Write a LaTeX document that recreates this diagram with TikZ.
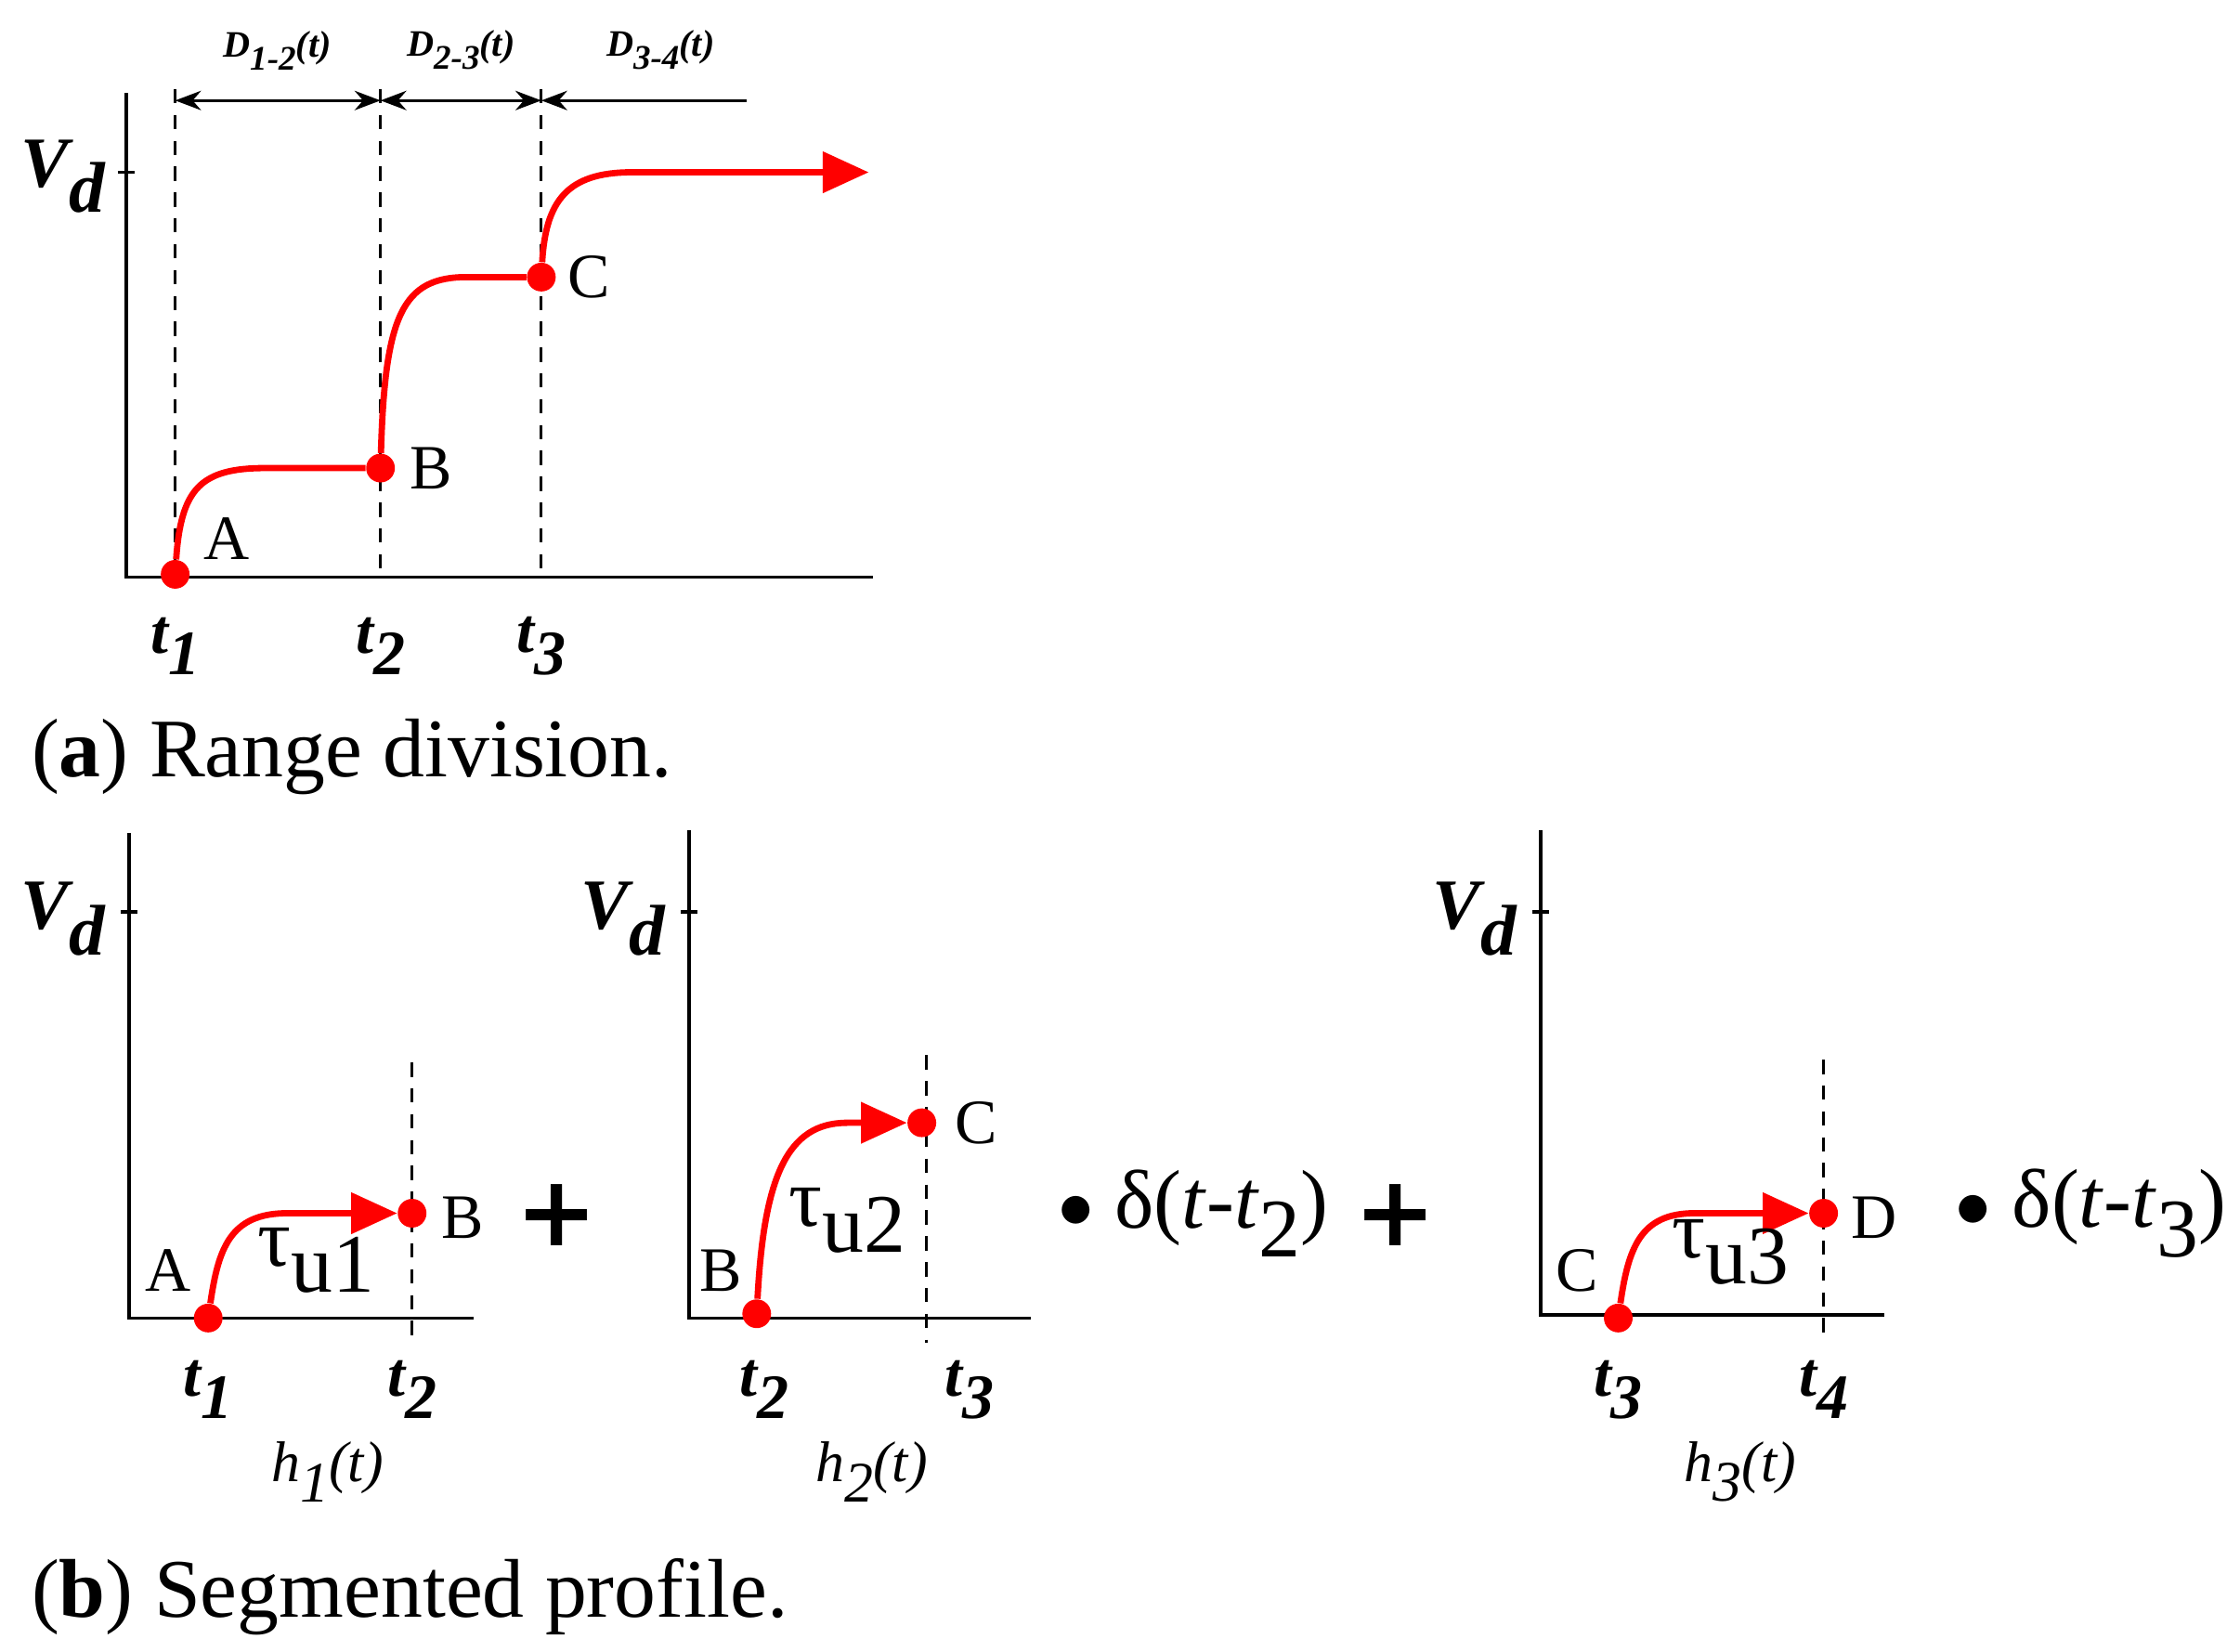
\documentclass[tikz,border=0pt]{standalone}
\usepackage{fontspec}
\setmainfont{Liberation Serif}
\newfontfamily\dv{DejaVu Sans}
\usetikzlibrary{arrows.meta}
\newcommand{\lsub}[1]{\raisebox{-0.35em}{#1}}
\begin{document}
\begin{tikzpicture}[x=0.5pt,y=-0.5pt,
  ax/.style={line width=1.2pt},
  dsh/.style={line width=1pt,dash pattern=on 5pt off 4pt},
  crv/.style={red,line width=2.2pt},
  dot/.style={circle,fill=red,inner sep=0pt,minimum size=10pt},
  tl/.style={font=\fontsize{22}{24}\selectfont\bfseries\itshape},
  vd/.style={font=\fontsize{25}{28}\selectfont\bfseries\itshape},
  pl/.style={font=\fontsize{22}{24}\selectfont},
  dl/.style={font=\fontsize{13}{14}\selectfont\bfseries\itshape},
  captxt/.style={font=\fontsize{29}{32}\selectfont,anchor=west},
  big/.style={font=\fontsize{29}{32}\selectfont},
  plus/.style={font=\fontsize{34}{40}\selectfont\dv\bfseries},
  hl/.style={font=\fontsize{20}{22}\selectfont\itshape},
  arr/.style={-{Triangle[length=16pt,width=14pt]}}]
\useasboundingbox (0,0) rectangle (1560,1150);
% ---------- (a)
\draw[ax] (88,65) -- (88,402) -- (608,402);
\draw[ax] (82,120) -- (94,120);
\node[vd] (vda) at (44,123) {V\lsub{d}};
\foreach \x in {122,265,377}{\draw[dsh] (\x,62) -- (\x,402);}
\coordinate (p1) at (122,70); \coordinate (p2) at (265,70);
\coordinate (p3) at (377,70); \coordinate (p4) at (520,70);
\draw[line width=1pt,{Stealth[length=9pt]}-{Stealth[length=9pt]}] (p1) -- (p2);
\draw[line width=1pt,{Stealth[length=9pt]}-{Stealth[length=9pt]}] (p2) -- (p3);
\draw[line width=1pt,{Stealth[length=9pt]}-] (p3) -- (p4);
\node[dl] (da) at (193,35) {D\lsub{\large 1-2}(t)};
\node[dl] (db) at (321,35) {D\lsub{\large 2-3}(t)};
\node[dl] (dc) at (460,35) {D\lsub{\large 3-4}(t)};
\node[dot] (A) at (122,400) {};
\node[dot] (B) at (265,326) {};
\node[dot] (C) at (377,193) {};
\coordinate (E) at (605,120);
\draw[crv] (A) .. controls (126,340) and (140,326) .. (185,326) -- (B);
\draw[crv] (B) .. controls (268,220) and (280,193) .. (325,193) -- (C);
\draw[crv] (C) .. controls (380,140) and (395,120) .. (440,120) -- (560,120);
\draw[red,line width=2.2pt,arr] (555,120) -- (E);
\node[pl] (la) at (158,375) {A};
\node[pl] (lb) at (300,326) {B};
\node[pl] (lc) at (410,193) {C};
\node[tl] at (122,450) {t\lsub{1}};
\node[tl] at (265,450) {t\lsub{2}};
\node[tl] at (377,450) {t\lsub{3}};
\node[captxt] at (15,527) {(\textbf{a}) Range division.};
% ---------- (b) panel 1
\draw[ax] (90,580) -- (90,918) -- (330,918);
\draw[ax] (84,635) -- (96,635);
\node[vd] at (44,640) {V\lsub{d}};
\draw[dsh] (287,740) -- (287,935);
\node[dot] (A1) at (145,918) {};
\node[dot] (B1) at (287,845) {};
\draw[crv] (A1) .. controls (152,870) and (160,845) .. (200,845) -- (260,845);
\draw[red,line width=2.2pt,arr] (255,845) -- (B1);
\node[pl] at (117,885) {A};
\node[pl] at (322,848) {B};
\node[big] at (220,878) {τ\raisebox{-9pt}{u1}};
\node[tl] at (145,968) {t\lsub{1}};
\node[tl] at (287,968) {t\lsub{2}};
\node[hl] at (228,1025) {h\lsub{1}(t)};
\node[plus] at (388,846) {+};
% panel 2
\draw[ax] (480,578) -- (480,918) -- (718,918);
\draw[ax] (474,635) -- (486,635);
\node[vd] at (434,640) {V\lsub{d}};
\draw[dsh] (645,735) -- (645,935);
\node[dot] (B2) at (527,915) {};
\node[dot] (C2) at (642,782) {};
\draw[crv] (B2) .. controls (532,820) and (548,782) .. (590,782) -- (615,782);
\draw[red,line width=2.2pt,arr] (610,782) -- (C2);
\node[pl] at (502,885) {B};
\node[pl] at (680,782) {C};
\node[big] at (590,850) {τ\raisebox{-9pt}{u2}};
\node[tl] at (532,968) {t\lsub{2}};
\node[tl] at (675,968) {t\lsub{3}};
\node[hl] at (607,1025) {h\lsub{2}(t)};
\node[big,anchor=west] at (730,845) {$\bullet$ δ(\textit{t}-\textit{t}\lsub{2})};
\node[plus] at (972,846) {+};
% panel 3
\draw[ax] (1073,578) -- (1073,916) -- (1312,916);
\draw[ax] (1067,635) -- (1079,635);
\node[vd] at (1027,640) {V\lsub{d}};
\draw[dsh] (1270,738) -- (1270,935);
\node[dot] (C3) at (1127,918) {};
\node[dot] (D3) at (1270,845) {};
\draw[crv] (C3) .. controls (1134,870) and (1142,845) .. (1180,845) -- (1242,845);
\draw[red,line width=2.2pt,arr] (1238,845) -- (D3);
\node[pl] at (1098,885) {C};
\node[pl] at (1305,848) {D};
\node[big] at (1205,872) {τ\raisebox{-9pt}{u3}};
\node[tl] at (1127,968) {t\lsub{3}};
\node[tl] at (1270,968) {t\lsub{4}};
\node[hl] at (1212,1025) {h\lsub{3}(t)};
\node[big,anchor=west] at (1355,845) {$\bullet$ δ(\textit{t}-\textit{t}\lsub{3})};
\node[captxt] at (15,1112) {(\textbf{b}) Segmented profile.};
\end{tikzpicture}
\end{document}
